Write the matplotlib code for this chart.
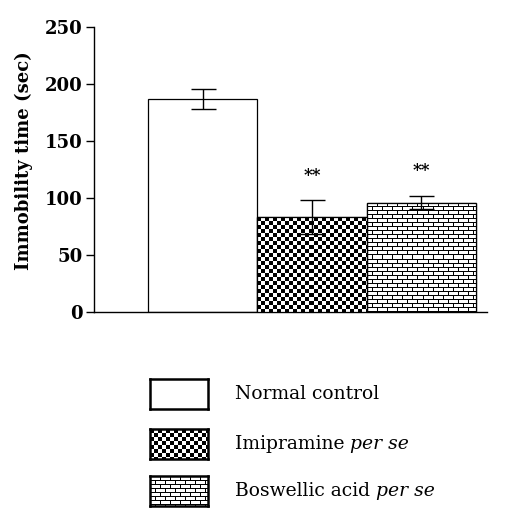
import numpy as np
import matplotlib
matplotlib.use("Agg")
import matplotlib.pyplot as plt
from matplotlib.patches import Rectangle

groups = ["Normal control", "Imipramine per se", "Boswellic acid per se"]
means = [187, 83, 96]
sems = [9, 15, 6]
stars = ["", "**", "**"]

plt.rcParams["font.family"] = ["DejaVu Serif"]

fig = plt.figure(figsize=(5.22, 5.13), dpi=100)
ax = fig.add_axes([94/522, 201/513, 393/522, 285/513])

x = np.arange(len(means))
bars = ax.bar(x, means, width=1.0, color="white", edgecolor="black", linewidth=0.9, zorder=2)
ax.set_xlim(-0.995, 2.6)
ax.set_ylim(0, 250)

# error bars
ax.errorbar(x, means, yerr=sems, fmt="none", ecolor="black", elinewidth=1.0,
            capsize=9, capthick=1.0, zorder=4)


def checker(nx, ny, c=4):
    ii, jj = np.mgrid[0:ny, 0:nx]
    return (((ii // c) + (jj // c)) % 2).astype(float)


def bricks(nx, ny, rh=4, bw=10):
    ii, jj = np.mgrid[0:ny, 0:nx]
    img = np.ones((ny, nx))
    img[ii % rh == 0] = 0
    row = ii // rh
    off = np.where(row % 2 == 0, 0, bw // 2)
    img[((jj + off) % bw == 0)] = 0
    return img


fig.canvas.draw()
for b, kind in zip(bars, [None, "checker", "bricks"]):
    if kind is None:
        continue
    x0, y0 = b.get_x(), 0
    x1, y1 = b.get_x() + b.get_width(), b.get_height()
    p0 = ax.transData.transform((x0, y0))
    p1 = ax.transData.transform((x1, y1))
    nx = int(round(p1[0] - p0[0]))
    ny = int(round(p1[1] - p0[1]))
    img = checker(nx, ny) if kind == "checker" else bricks(nx, ny)
    im = ax.imshow(img, cmap="gray", vmin=0, vmax=1, extent=(x0, x1, y0, y1),
                   aspect="auto", interpolation="nearest", zorder=3)
    im.set_clip_path(b)
    ax.add_patch(Rectangle((x0, y0), x1 - x0, y1 - y0, fill=False,
                           edgecolor="black", linewidth=0.9, zorder=3.5))

for xi, m, s, st in zip(x, means, sems, stars):
    if st:
        ax.text(xi, m + s + 22, st, ha="center", va="center", fontsize=12,
                fontweight="bold")

ax.spines["top"].set_visible(False)
ax.spines["right"].set_visible(False)
ax.spines["left"].set_linewidth(1.0)
ax.spines["bottom"].set_linewidth(1.0)
ax.set_xticks([])
ax.set_yticks([0, 50, 100, 150, 200, 250])
ax.tick_params(axis="y", length=6, width=1.0, pad=2, labelsize=13)
for t in ax.get_yticklabels():
    t.set_fontweight("bold")
ax.set_ylabel("Immobility time (sec)", fontsize=13, fontweight="bold")
ax.yaxis.set_label_coords(-0.155, 0.53)

# legend below the plot
leg_y = [394, 444, 491]
for (lbl, kind), yc in zip(zip(groups, [None, "checker", "bricks"]), leg_y):
    ax_l = fig.add_axes([150/522, (513 - yc - 15)/513, 58/522, 30/513])
    ax_l.set_xlim(0, 1)
    ax_l.set_ylim(0, 1)
    if kind == "checker":
        ax_l.imshow(checker(58, 30), cmap="gray", vmin=0, vmax=1, extent=(0, 1, 0, 1),
                    aspect="auto", interpolation="nearest")
    elif kind == "bricks":
        ax_l.imshow(bricks(58, 30), cmap="gray", vmin=0, vmax=1, extent=(0, 1, 0, 1),
                    aspect="auto", interpolation="nearest")
    ax_l.set_xticks([])
    ax_l.set_yticks([])
    for sp in ax_l.spines.values():
        sp.set_linewidth(1.8)
    if "per se" in lbl:
        name = lbl.replace("per se", "")
    else:
        name = lbl
    t = fig.text(235/522, 1 - yc/513, name, fontsize=13.5, va="center", ha="left")
    if "per se" in lbl:
        fig.canvas.draw()
        bb = t.get_window_extent()
        fig.text(bb.x1/522, 1 - yc/513, "per se", fontsize=13.5, va="center",
                 ha="left", style="italic")

fig.savefig("out.png", dpi=100)
